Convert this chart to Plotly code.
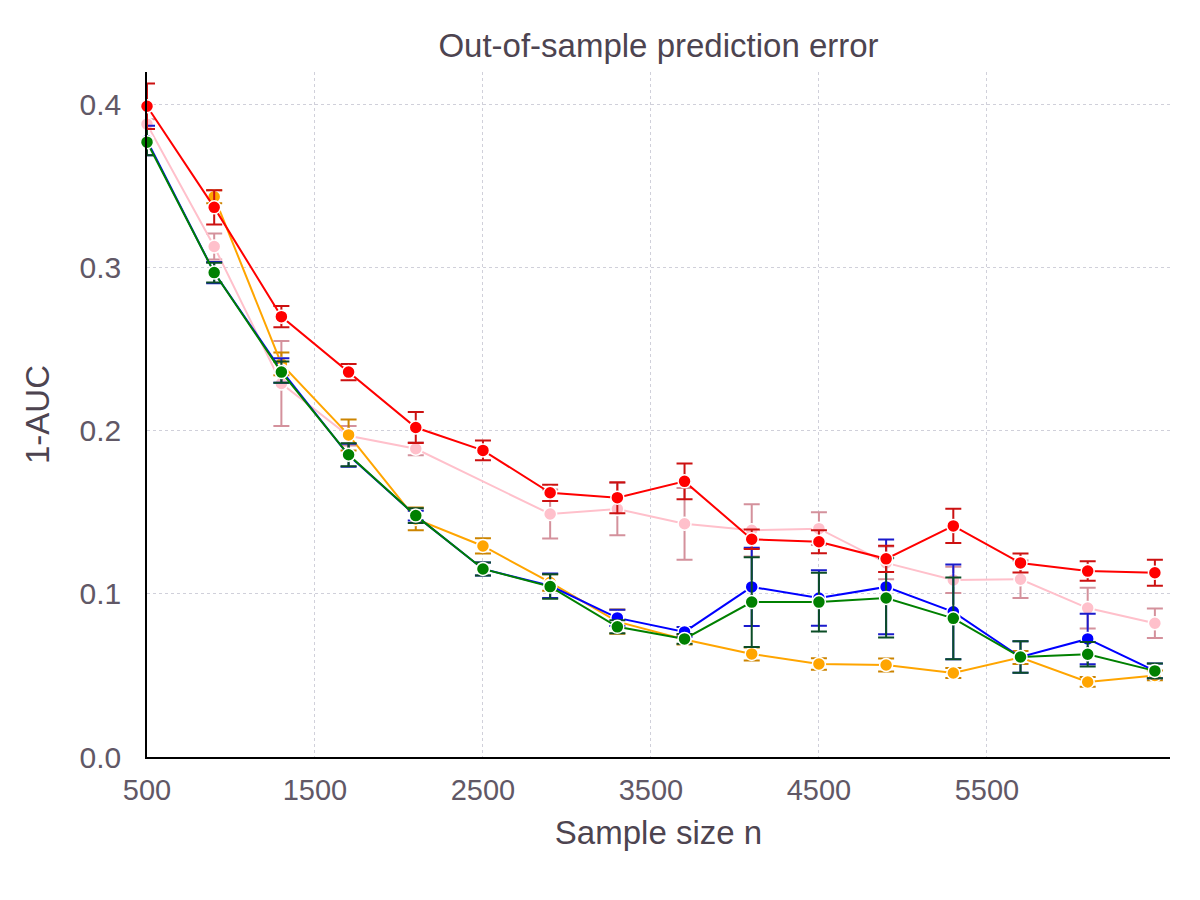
import plotly.graph_objects as go

sample_size = [500, 900, 1300, 1700, 2100, 2500, 2900, 3300, 3700, 4100, 4500, 4900, 5300, 5700, 6100, 6500]

red_vals = [0.399, 0.337, 0.270, 0.236, 0.202, 0.188, 0.162, 0.159, 0.169, 0.1335, 0.132, 0.1215, 0.1417, 0.119, 0.114, 0.113]
red_err = [0.014, 0.0105, 0.0065, 0.005, 0.0095, 0.006, 0.005, 0.0095, 0.011, 0.006, 0.007, 0.008, 0.0105, 0.0058, 0.006, 0.008]

pink_vals = [0.388, 0.313, 0.229, 0.197, 0.189, None, 0.149, 0.152, 0.143, 0.139, 0.140, 0.119, 0.1086, 0.109, 0.0913, 0.082]
pink_err = [0.003, 0.008, 0.026, 0.006, 0.004, None, 0.015, 0.016, 0.022, 0.016, 0.010, 0.010, 0.008, 0.0115, 0.0125, 0.009]

orange_vals = [None, 0.3435, 0.241, 0.1975, 0.146, 0.1294, 0.107, 0.083, 0.072, 0.0632, 0.057, 0.0564, 0.0515, 0.061, 0.046, 0.050]
orange_err = [None, 0.004, 0.007, 0.0095, 0.007, 0.0047, 0.005, 0.0075, 0.003, 0.004, 0.0035, 0.004, 0.003, 0.004, 0.003, 0.003]

blue_vals = [0.378, 0.297, 0.237, 0.185, 0.148, 0.1153, 0.105, 0.0853, 0.0767, 0.1043, 0.0975, 0.1043, 0.089, 0.0613, 0.0724, 0.0528]
blue_err = [0.009, 0.0065, 0.0075, 0.007, 0.003, 0.004, 0.0075, 0.005, 0.003, 0.024, 0.017, 0.029, 0.029, 0.0097, 0.0155, 0.0045]

green_vals = [0.377, 0.297, 0.236, 0.1853, 0.148, 0.1153, 0.1045, 0.0798, 0.0724, 0.095, 0.095, 0.0975, 0.085, 0.0613, 0.063, 0.0528]
green_err = [0.008, 0.006, 0.0065, 0.007, 0.0045, 0.004, 0.0075, 0.004, 0.003, 0.0275, 0.018, 0.0243, 0.025, 0.0097, 0.0075, 0.0045]

x_ticks = [500, 1500, 2500, 3500, 4500, 5500]
y_ticks = [0.0, 0.1, 0.2, 0.3, 0.4]

series = [
    ("pink", pink_vals, pink_err, "pink", "#d4919c"),
    ("orange", orange_vals, orange_err, "orange", "#cc8400"),
    ("blue", blue_vals, blue_err, "blue", "#1a1acc"),
    ("green", green_vals, green_err, "green", "#0b4d26"),
    ("red", red_vals, red_err, "red", "#cc1111"),
]

fig = go.Figure()
for name, vals, errs, col, ecol in series:
    fig.add_trace(go.Scatter(
        x=sample_size, y=vals, name=name, mode="lines+markers",
        connectgaps=True,
        line=dict(color=col, width=2),
        marker=dict(color=col, size=13, line=dict(color="white", width=1.5)),
        error_y=dict(type="data", array=errs, visible=True, color=ecol,
                     thickness=2, width=8),
        cliponaxis=False,
        showlegend=False,
    ))

text_col = "#615866"
title_col = "#4d4450"
font_family = "Liberation Sans, Arial, sans-serif"

fig.update_layout(
    width=1200, height=900,
    paper_bgcolor="white", plot_bgcolor="white",
    margin=dict(l=147, r=30, t=72, b=143, pad=0),
    font=dict(family=font_family, color=text_col),
    title=dict(text="Out-of-sample prediction error", x=0.5, xref="paper",
               y=1 - 45 / 900, yref="container", yanchor="middle", xanchor="center",
               font=dict(size=33, color=title_col, family=font_family)),
    xaxis=dict(
        range=[500, 6590], tickvals=x_ticks, ticktext=[str(v) for v in x_ticks],
        showgrid=True, gridcolor="#d0d0da", griddash="dot", gridwidth=1.2,
        showline=True, linecolor="black", linewidth=1.5, zeroline=False,
        ticks="", ticklabelstandoff=6,
        tickfont=dict(size=29, color=text_col),
        title=dict(text="Sample size n", font=dict(size=33, color=title_col), standoff=16),
    ),
    yaxis=dict(
        range=[0, 0.42], tickvals=y_ticks, ticktext=[f"{v:.1f}" for v in y_ticks],
        showgrid=True, gridcolor="#d0d0da", griddash="dot", gridwidth=1.2,
        showline=True, linecolor="black", linewidth=1.5, zeroline=False,
        ticks="", ticklabelstandoff=18,
        tickfont=dict(size=30, color=text_col),
        title=dict(text="1-AUC", font=dict(size=33, color=title_col), standoff=20),
    ),
    shapes=[
        dict(type="line", xref="x", yref="y", xsizemode="pixel", xanchor=500,
             x0=-12, x1=0, y0=0, y1=0, line=dict(color="black", width=1.5)),
        dict(type="line", xref="x", yref="y", ysizemode="pixel", yanchor=0,
             y0=-10, y1=0, x0=500, x1=500, line=dict(color="black", width=1.5)),
    ],
)

fig.write_html("out.html")
